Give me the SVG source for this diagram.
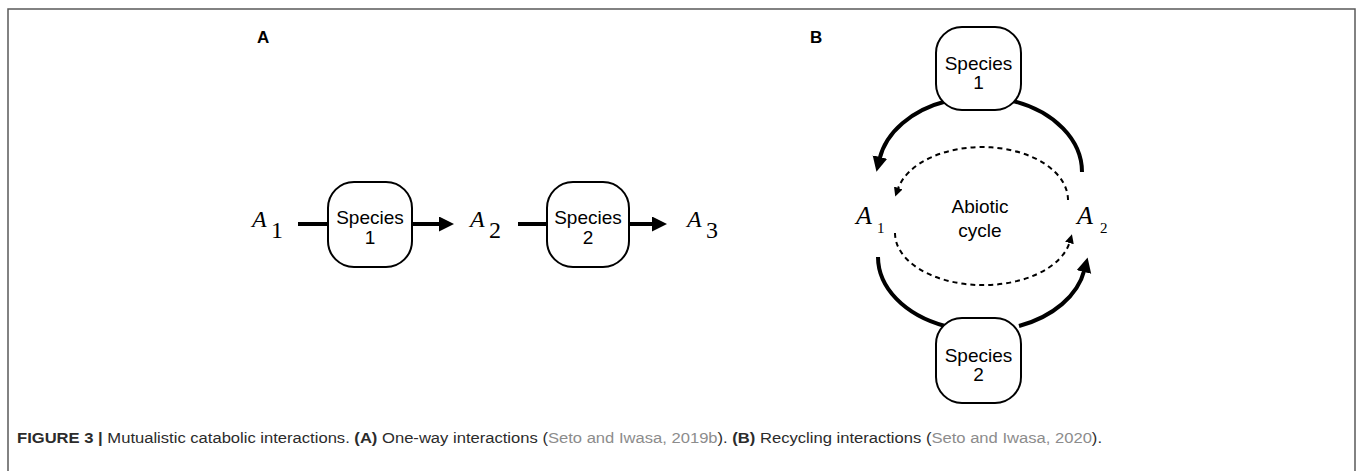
<svg xmlns="http://www.w3.org/2000/svg" width="1357" height="471" viewBox="0 0 1357 471">
  <style>
    .frame { fill: none; stroke: #5a5a5a; stroke-width: 1.5; }
    .panel { font-family: "Liberation Sans", Arial, sans-serif; font-weight: bold; font-size: 17px; fill: #000; }
    .box { fill: #fff; stroke: #000; stroke-width: 2; }
    .lbl { font-family: "Liberation Sans", Arial, sans-serif; font-size: 19px; fill: #000; text-anchor: middle; }
    .var { font-family: "Liberation Serif", "Times New Roman", serif; fill: #000; }
    .flow { fill: none; stroke: #000; stroke-width: 4; }
    .dash { fill: none; stroke: #000; stroke-width: 2; stroke-dasharray: 5 4; }
    .cap { font-family: "Liberation Sans", Arial, sans-serif; font-size: 15.5px; fill: #2b2b2b; }
    .cite { fill: #8c8c8c; }
  </style>
  <defs>
    <marker id="head" markerUnits="userSpaceOnUse" markerWidth="16" markerHeight="16" refX="2" refY="7.5" orient="auto">
      <path d="M0,0 L15,7.5 L0,15 z" fill="#000"/>
    </marker>
    <marker id="headSmall" markerUnits="userSpaceOnUse" markerWidth="10" markerHeight="10" refX="1" refY="4.5" orient="auto">
      <path d="M0,0 L9,4.5 L0,9 z" fill="#000"/>
    </marker>
  </defs>

  <rect width="1357" height="471" fill="#fff"/>
  <!-- figure frame (open at the bottom) -->
  <path class="frame" d="M8,471 V9 H1355 V471"/>

  <text class="panel" x="257" y="43">A</text>
  <text class="panel" x="810" y="43">B</text>

  <!-- connectors -->
  <g id="connectors">
    <!-- panel A: one-way chain -->
    <line class="flow" x1="298" y1="224" x2="330" y2="224"/>
    <line class="flow" x1="410" y1="224" x2="441" y2="224" marker-end="url(#head)"/>
    <line class="flow" x1="518" y1="224" x2="549" y2="224"/>
    <line class="flow" x1="626" y1="224" x2="654" y2="224" marker-end="url(#head)"/>

    <!-- panel B: recycling loop -->
    <path class="flow" d="M947,101 A102,75 0 0 0 879.5,159" marker-end="url(#head)"/>
    <path class="flow" d="M1013,101 A102,75 0 0 1 1082,172"/>
    <path class="flow" d="M878,257 A104,74 0 0 0 945,326"/>
    <path class="flow" d="M1019,326 A104,74 0 0 0 1084.4,270" marker-end="url(#head)"/>

    <!-- abiotic cycle -->
    <path class="dash" d="M1068,200 A86,53 0 0 0 897.9,189" marker-end="url(#headSmall)"/>
    <path class="dash" d="M895,233 A88,52 0 0 0 1069.7,242" marker-end="url(#headSmall)"/>
  </g>

  <!-- panel A nodes -->
  <g id="a-A1">
    <text class="var" x="252" y="227" font-size="24" font-style="italic">A</text>
    <text class="var" x="271" y="238" font-size="24">1</text>
  </g>
  <g id="a-species1">
    <rect class="box" x="328" y="182" width="84" height="85" rx="26"/>
    <text class="lbl" x="370" y="224">Species</text>
    <text class="lbl" x="370" y="244">1</text>
  </g>
  <g id="a-A2">
    <text class="var" x="470" y="227" font-size="24" font-style="italic">A</text>
    <text class="var" x="489" y="238" font-size="24">2</text>
  </g>
  <g id="a-species2">
    <rect class="box" x="547" y="182" width="82" height="85" rx="26"/>
    <text class="lbl" x="588" y="224">Species</text>
    <text class="lbl" x="588" y="244">2</text>
  </g>
  <g id="a-A3">
    <text class="var" x="687" y="227" font-size="24" font-style="italic">A</text>
    <text class="var" x="706" y="238" font-size="24">3</text>
  </g>

  <!-- panel B nodes -->
  <g id="b-species1">
    <rect class="box" x="936" y="27" width="85" height="83" rx="26"/>
    <text class="lbl" x="978.5" y="70">Species</text>
    <text class="lbl" x="978.5" y="89">1</text>
  </g>
  <g id="b-species2">
    <rect class="box" x="936" y="318" width="85" height="85" rx="26"/>
    <text class="lbl" x="978.5" y="362">Species</text>
    <text class="lbl" x="978.5" y="381">2</text>
  </g>
  <g id="b-A1">
    <text class="var" x="856" y="224" font-size="26" font-style="italic">A</text>
    <text class="var" x="877" y="233" font-size="15">1</text>
  </g>
  <g id="b-A2">
    <text class="var" x="1077" y="224" font-size="26" font-style="italic">A</text>
    <text class="var" x="1100" y="233" font-size="15">2</text>
  </g>
  <g id="b-cycle">
    <text class="lbl" x="980" y="213" font-size="22.5">Abiotic</text>
    <text class="lbl" x="980" y="237" font-size="22.5">cycle</text>
  </g>

  <!-- caption -->
  <text class="cap" x="17" y="443" textLength="1085" lengthAdjust="spacingAndGlyphs"><tspan font-weight="bold">FIGURE 3 |</tspan> Mutualistic catabolic interactions. <tspan font-weight="bold">(A)</tspan> One-way interactions (<tspan class="cite">Seto and Iwasa, 2019b</tspan>). <tspan font-weight="bold">(B)</tspan> Recycling interactions (<tspan class="cite">Seto and Iwasa, 2020</tspan>).</text>
</svg>
